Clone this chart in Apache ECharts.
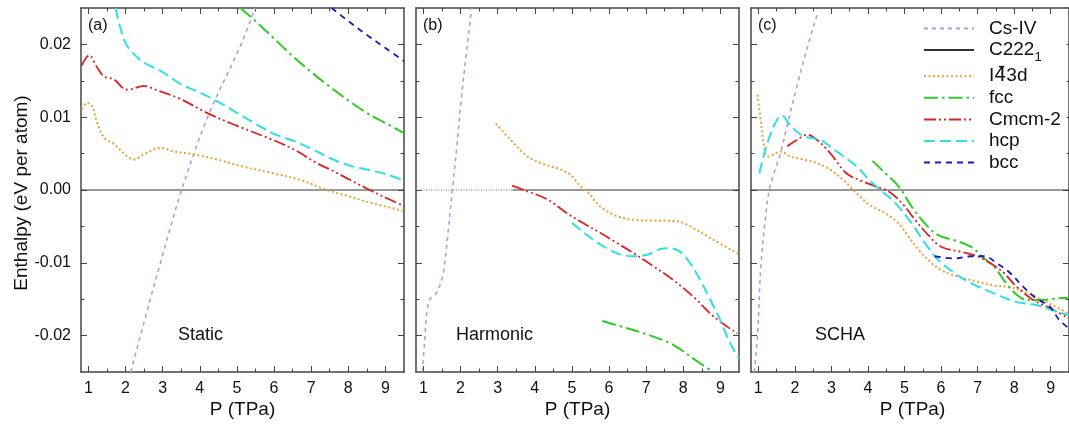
<!DOCTYPE html>
<html><head><meta charset="utf-8">
<script src="https://cdn.jsdelivr.net/npm/echarts@6/dist/echarts.min.js"></script>
<style>html,body{margin:0;padding:0;background:#fff}#c{width:1069px;height:425px}</style>
</head><body><div id="c"></div>
<script>
// ---- tick labels / axes ----
const xMajorTicks = [1, 2, 3, 4, 5, 6, 7, 8, 9];
const xMinorTicks = [1.5, 2.5, 3.5, 4.5, 5.5, 6.5, 7.5, 8.5];
const yMajorTicks = [-0.02, -0.01, 0, 0.01, 0.02];
const yMinorTicks = [-0.015, -0.005, 0.005, 0.015];
const panelTags = ['(a)', '(b)', '(c)'];
const panelNames = ['Static', 'Harmonic', 'SCHA'];
const seriesNames = ['Cs-IV', 'C2221', 'I-43d', 'fcc', 'Cmcm-2', 'hcp', 'bcc'];

// ---- (a) Static ----
const staticC2221 = [[0.8, 0], [9.5, 0]];
const staticCsIV = [[2.14, -0.025], [2.40, -0.02], [2.94, -0.01], [3.51, 0], [4.21, 0.01], [5.11, 0.02], [5.49, 0.025]];
const staticI43d = [[0.82, 0.0111], [0.97, 0.0120], [1.1, 0.0115], [1.24, 0.0092], [1.42, 0.0072], [1.69, 0.0063], [2.05, 0.0046], [2.23, 0.0042], [2.49, 0.0049], [2.94, 0.0058], [3.3, 0.0053], [3.84, 0.0049], [4.46, 0.0042], [5.09, 0.0033], [5.98, 0.0023], [6.7, 0.0014], [7.42, 0.0000], [8.04, -0.0009], [8.49, -0.0016], [9.5, -0.0029]];
const staticFcc = [[5.09, 0.025], [5.5, 0.0232], [6, 0.0208], [6.5, 0.0184], [7, 0.0162], [7.5, 0.0142], [8, 0.0123], [8.5, 0.0106], [9, 0.0092], [9.5, 0.0078]];
const staticCmcm2 = [[0.82, 0.0171], [1.02, 0.0185], [1.24, 0.0168], [1.42, 0.0156], [1.69, 0.0152], [1.96, 0.0139], [2.09, 0.0138], [2.49, 0.0143], [2.85, 0.0137], [3.48, 0.0125], [4.19, 0.0106], [4.91, 0.0090], [5.81, 0.0072], [6.52, 0.0056], [7.15, 0.0037], [7.6, 0.0026], [8.04, 0.0014], [8.58, 0.0000], [8.94, -0.0009], [9.5, -0.0022]];
const staticHcp = [[1.73, 0.025], [1.85, 0.0225], [2.0, 0.0202], [2.2, 0.0188], [2.5, 0.0175], [3.0, 0.0162], [3.5, 0.0145], [4.0, 0.0134], [4.5, 0.0121], [5.0, 0.0106], [5.5, 0.0091], [6.0, 0.0077], [6.5, 0.0068], [7.0, 0.0057], [7.5, 0.0044], [8.0, 0.0034], [8.5, 0.0028], [9.0, 0.0022], [9.5, 0.0013]];
const staticBcc = [[7.55, 0.025], [8.0, 0.0232], [8.5, 0.0213], [9.0, 0.0195], [9.5, 0.0177]];

// ---- (b) Harmonic ----
const harmonicC2221Dotted = [[0.8, 0], [3.4, 0]];
const harmonicC2221 = [[3.4, 0], [9.5, 0]];
const harmonicCsIV = [[0.97, -0.025], [1.03, -0.021], [1.1, -0.0165], [1.2, -0.0148], [1.33, -0.0143], [1.45, -0.013], [1.55, -0.011], [1.65, -0.0065], [1.78, 0], [1.9, 0.006], [2.02, 0.0125], [2.15, 0.0185], [2.3, 0.025]];
const harmonicI43d = [[2.95, 0.0091], [3.35, 0.0069], [3.8, 0.0046], [4.16, 0.0037], [4.7, 0.0028], [4.96, 0.0021], [5.23, 0.0005], [5.41, -0.0002], [5.77, -0.0023], [6.22, -0.0036], [6.67, -0.0041], [7.2, -0.0042], [7.83, -0.0043], [8.19, -0.005], [8.73, -0.0066], [9.5, -0.0088]];
const harmonicFcc = [[5.82, -0.018], [6.49, -0.019], [7.12, -0.02], [7.74, -0.0213], [8.28, -0.0232], [8.8, -0.025]];
const harmonicCmcm2 = [[3.39, 0.0006], [3.71, 0.0], [4.34, -0.0013], [4.87, -0.0032], [5.32, -0.0046], [5.77, -0.0059], [6.22, -0.0073], [6.67, -0.0087], [7.2, -0.0105], [7.74, -0.0124], [8.28, -0.0147], [8.82, -0.0174], [9.45, -0.0197]];
const harmonicHcp = [[5.0, -0.0045], [5.41, -0.0062], [5.77, -0.0075], [6.22, -0.0087], [6.67, -0.0091], [7.03, -0.0089], [7.39, -0.0081], [7.65, -0.008], [7.92, -0.0085], [8.19, -0.0101], [8.46, -0.0124], [8.73, -0.0151], [9.0, -0.0179], [9.22, -0.0206], [9.5, -0.0232]];
const harmonicBcc = [];

// ---- (c) SCHA ----
const schaC2221 = [[0.8, 0], [9.5, 0]];
const schaCsIV = [[0.89, -0.025], [0.98, -0.0197], [1.07, -0.0105], [1.21, -0.0032], [1.3, 0], [1.43, 0.0023], [1.61, 0.0051], [1.83, 0.0097], [2.06, 0.0143], [2.33, 0.0194], [2.64, 0.0246]];
const schaI43d = [[0.98, 0.0131], [1.05, 0.0102], [1.16, 0.006], [1.25, 0.0046], [1.43, 0.0049], [1.61, 0.0053], [1.88, 0.0046], [2.24, 0.0042], [2.6, 0.0037], [2.96, 0.0028], [3.32, 0.0014], [3.68, -0.0004], [4.03, -0.002], [4.48, -0.0032], [4.84, -0.0046], [5.11, -0.0064], [5.38, -0.0082], [5.65, -0.0096], [6.0, -0.011], [6.46, -0.0119], [7.0, -0.0126], [7.45, -0.0131], [7.8, -0.0133], [8.16, -0.0137], [8.61, -0.0147], [8.97, -0.0156], [9.5, -0.017]];
const schaFcc = [[4.12, 0.004], [4.48, 0.0023], [4.84, 0.0005], [5.2, -0.0023], [5.56, -0.0046], [5.92, -0.0062], [6.37, -0.0069], [6.82, -0.0078], [7.18, -0.0094], [7.45, -0.0105], [7.72, -0.0124], [8.07, -0.0144], [8.34, -0.0151], [8.79, -0.0151], [9.15, -0.0149], [9.5, -0.0148]];
const schaCmcm2 = [[1.79, 0.006], [2.06, 0.0069], [2.33, 0.0076], [2.6, 0.0069], [2.96, 0.0051], [3.41, 0.0023], [3.85, 0.0012], [4.21, 0.0005], [4.57, -0.0002], [4.93, -0.0018], [5.29, -0.0041], [5.65, -0.0062], [6.0, -0.0078], [6.55, -0.0085], [7.0, -0.0091], [7.36, -0.0101], [7.72, -0.0114], [8.07, -0.0133], [8.52, -0.0151], [8.88, -0.016], [9.5, -0.0176]];
const schaHcp = [[1.03, 0.0023], [1.25, 0.0065], [1.52, 0.0097], [1.65, 0.0102], [1.88, 0.0088], [2.24, 0.0074], [2.69, 0.0069], [3.14, 0.0053], [3.68, 0.0033], [4.03, 0.0014], [4.39, -0.0002], [4.75, -0.0018], [5.2, -0.0046], [5.56, -0.0073], [5.92, -0.0096], [6.37, -0.0114], [6.82, -0.0128], [7.45, -0.0142], [8.07, -0.0154], [8.61, -0.0158], [9.15, -0.0167], [9.5, -0.0172]];
const schaBcc = [[5.83, -0.0091], [6.37, -0.0094], [6.82, -0.0091], [7.18, -0.0091], [7.54, -0.0101], [7.89, -0.0114], [8.25, -0.0133], [8.61, -0.0149], [8.97, -0.016], [9.24, -0.0179], [9.5, -0.019]];

// ---- styling (not data) ----
const FONT = 'Liberation Sans, Arial, Helvetica, sans-serif';
const styles = {
  'Cs-IV':  { color: '#b897ea', type: [4, 4], width: 1.6 },
  'C2221':  { color: '#333333', type: 'solid', width: 1 },
  'I-43d':  { color: '#eaa332', type: [2, 2.5], width: 2 },
  'fcc':    { color: '#2ccc22', type: [14, 4, 2.5, 4], width: 2 },
  'Cmcm-2': { color: '#dd2222', type: [12, 3, 2, 3, 2, 3], width: 1.8 },
  'hcp':    { color: '#2ddfe8', type: [11, 5], width: 2 },
  'bcc':    { color: '#1a1ab8', type: [6, 5], width: 1.8 }
};

const panels = [
  { 'C2221': staticC2221, 'Cs-IV': staticCsIV, 'I-43d': staticI43d, 'fcc': staticFcc, 'Cmcm-2': staticCmcm2, 'hcp': staticHcp, 'bcc': staticBcc },
  { 'C2221': harmonicC2221, 'Cs-IV': harmonicCsIV, 'I-43d': harmonicI43d, 'fcc': harmonicFcc, 'Cmcm-2': harmonicCmcm2, 'hcp': harmonicHcp, 'bcc': harmonicBcc },
  { 'C2221': schaC2221, 'Cs-IV': schaCsIV, 'I-43d': schaI43d, 'fcc': schaFcc, 'Cmcm-2': schaCmcm2, 'hcp': schaHcp, 'bcc': schaBcc }
];
const gridLefts = [81, 416, 751];
const gridWidth = 323;
const gridTop = 8, gridHeight = 364;

const frameLine = { show: true, onZero: false, lineStyle: { color: '#444', width: 1.5 } };
const noLine = { show: false, onZero: false };
const tickStyle = { color: '#444', width: 1 };
const grids = [], xAxes = [], yAxes = [], series = [], graphics = [];

gridLefts.forEach((left, i) => {
  grids.push({ left: left, top: gridTop, width: gridWidth, height: gridHeight, containLabel: false });
  const xb = { type: 'value', gridIndex: i, min: 0.8, max: 9.5, splitLine: { show: false } };
  xAxes.push(Object.assign({}, xb, { position: 'bottom', axisLine: frameLine,
    axisTick: { show: true, inside: true, length: 6, customValues: xMajorTicks, lineStyle: tickStyle },
    axisLabel: { show: true, customValues: xMajorTicks, margin: 9, fontSize: 16, color: '#111', fontFamily: FONT, formatter: v => String(Math.round(v)) } }));
  xAxes.push(Object.assign({}, xb, { position: 'bottom', axisLine: noLine,
    axisTick: { show: true, inside: true, length: 3.5, customValues: xMinorTicks, lineStyle: tickStyle },
    axisLabel: { show: false } }));
  xAxes.push(Object.assign({}, xb, { position: 'top', axisLine: frameLine,
    axisTick: { show: true, inside: true, length: 6, customValues: xMajorTicks, lineStyle: tickStyle },
    axisLabel: { show: false } }));
  xAxes.push(Object.assign({}, xb, { position: 'top', axisLine: noLine,
    axisTick: { show: true, inside: true, length: 3.5, customValues: xMinorTicks, lineStyle: tickStyle },
    axisLabel: { show: false } }));

  const yb = { type: 'value', gridIndex: i, min: -0.025, max: 0.025, splitLine: { show: false } };
  yAxes.push(Object.assign({}, yb, { position: 'left', axisLine: frameLine,
    axisTick: { show: true, inside: true, length: 6, customValues: yMajorTicks, lineStyle: tickStyle },
    axisLabel: { show: i === 0, customValues: yMajorTicks, margin: 10, fontSize: 16, color: '#111', fontFamily: FONT, formatter: v => v.toFixed(2) } }));
  yAxes.push(Object.assign({}, yb, { position: 'left', axisLine: noLine,
    axisTick: { show: true, inside: true, length: 3.5, customValues: yMinorTicks, lineStyle: tickStyle },
    axisLabel: { show: false } }));
  yAxes.push(Object.assign({}, yb, { position: 'right', axisLine: frameLine,
    axisTick: { show: true, inside: true, length: 6, customValues: yMajorTicks, lineStyle: tickStyle },
    axisLabel: { show: false } }));
  yAxes.push(Object.assign({}, yb, { position: 'right', axisLine: noLine,
    axisTick: { show: true, inside: true, length: 3.5, customValues: yMinorTicks, lineStyle: tickStyle },
    axisLabel: { show: false } }));

  if (i === 1) {
    series.push({ type: 'line', name: 'C2221-dotted', xAxisIndex: 4 * i, yAxisIndex: 4 * i,
      data: harmonicC2221Dotted, symbol: 'none', silent: true, z: 1,
      lineStyle: { color: '#777', width: 1, type: [1, 1.5] } });
  }
  seriesNames.forEach(name => {
    const d = panels[i][name];
    const st = styles[name];
    series.push({ type: 'line', name: name, xAxisIndex: 4 * i, yAxisIndex: 4 * i, data: d,
      symbol: 'none', smooth: name === 'C2221' ? false : 0.35, clip: true, z: name === 'C2221' ? 1 : 3,
      itemStyle: { color: st.color },
      lineStyle: { color: st.color, width: st.width, type: st.type, cap: 'butt' } });
  });

  const cx = left + gridWidth / 2;
  graphics.push({ type: 'text', left: left + 7, top: 18, style: { text: panelTags[i], fontSize: 16, fill: '#111', fontFamily: FONT } });
  graphics.push({ type: 'text', x: left + [97, 40, 64][i], y: 335, style: { text: panelNames[i], fontSize: 18, fill: '#111', fontFamily: FONT, textVerticalAlign: 'middle' } });
  graphics.push({ type: 'text', x: cx, y: 410, style: { text: 'P (TPa)', fontSize: 19, fill: '#111', fontFamily: FONT, textAlign: 'center', textVerticalAlign: 'middle' } });
});
graphics.push({ type: 'text', x: 22, y: 193, rotation: Math.PI / 2,
  style: { text: 'Enthalpy (eV per atom)', fontSize: 19, fill: '#111', fontFamily: FONT, textAlign: 'center', textVerticalAlign: 'middle' } });

const chart = echarts.init(document.getElementById('c'), null, { renderer: 'canvas' });
chart.setOption({
  animation: false,
  backgroundColor: '#fff',
  grid: grids, xAxis: xAxes, yAxis: yAxes, series: series,
  legend: {
    orient: 'vertical', left: 921, top: 17, itemWidth: 50, itemHeight: 12, itemGap: 2.6,
    data: seriesNames, selectedMode: false, backgroundColor: '#fff', padding: [2, 6, 2, 2],
    itemStyle: { opacity: 0, borderWidth: 0 },
    lineStyle: { opacity: 1 },
    formatter: n => n === 'C2221' ? '{t|C222}{s|1}' : (n === 'I-43d' ? '{t|I}{d|4\u0304}{t|3d}' : n),
    textStyle: { fontSize: 19, color: '#111', fontFamily: FONT, lineHeight: 18, padding: [0, 0, 0, 10],
      rich: { t: { fontSize: 19, fontFamily: FONT, color: '#111', lineHeight: 18 },
              d: { fontSize: 19, fontFamily: 'DejaVu Sans', color: '#111', lineHeight: 18 },
              s: { fontSize: 13, fontFamily: FONT, color: '#111', lineHeight: 18, verticalAlign: 'top', padding: [10, 0, 0, 0] } } }
  },
  graphic: graphics
});
</script></body></html>
